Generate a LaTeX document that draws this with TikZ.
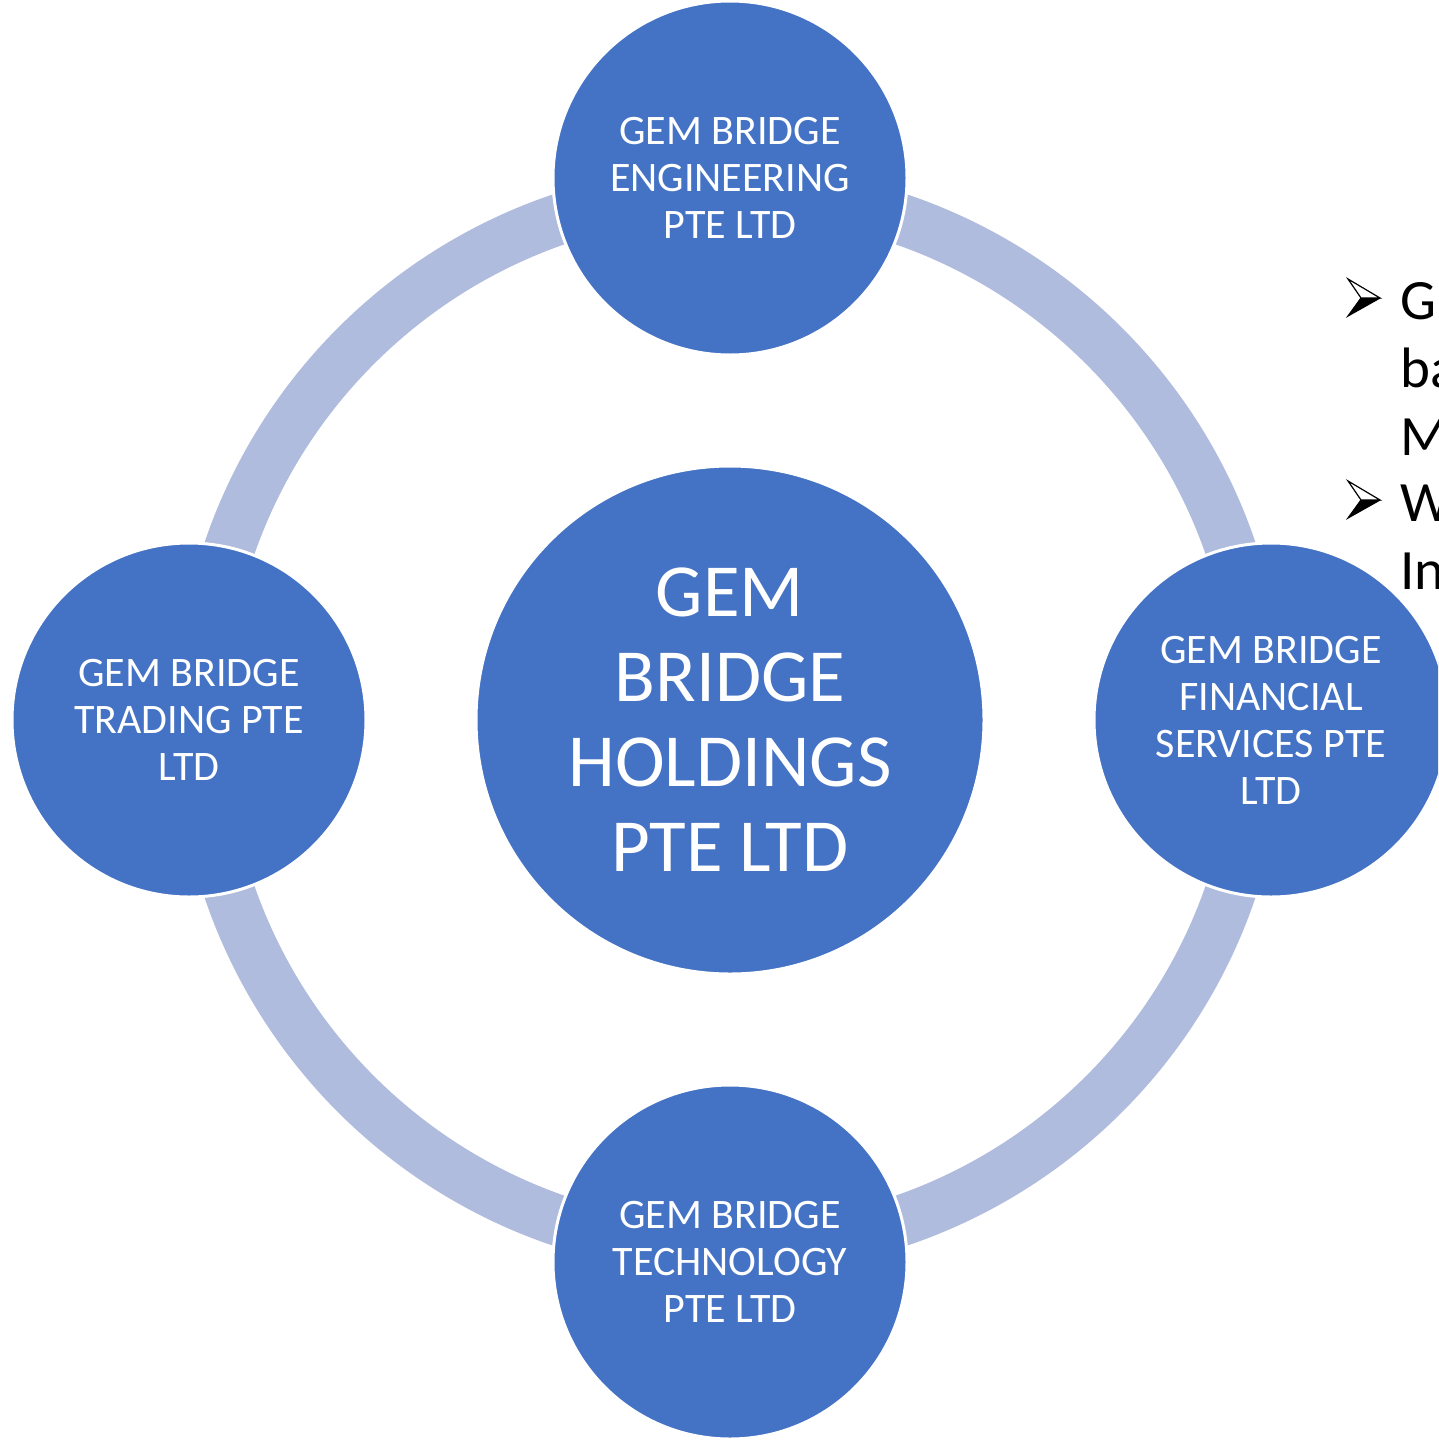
\documentclass[tikz,border=0pt]{standalone}
\usepackage{fontspec}
\setmainfont{Carlito}
\definecolor{circblue}{RGB}{68,114,196}
\definecolor{ringblue}{RGB}{176,188,222}
\begin{document}
\begin{tikzpicture}[x=1pt,y=-1pt,
  sat/.style={circle,fill=circblue,draw=white,line width=3pt,minimum size=354pt,inner sep=0pt,
    align=center,text=white,font=\fontsize{42}{47}\selectfont},
  hub/.style={circle,fill=circblue,draw=white,line width=3pt,minimum size=508pt,inner sep=0pt,
    align=center,text=white,font=\fontsize{75}{85}\selectfont},
  txt/.style={anchor=base west,inner sep=0pt,font=\fontsize{57}{68}\selectfont},
  arrowbullet/.pic={
    \draw[black,line width=1.2pt,line join=miter,fill=white] (0,0) -- (32,19) -- (13,19) -- cycle;
    \fill[black] (13,19) -- (32,19) -- (0,37) -- cycle;
    \draw[black,line width=1.2pt,line join=miter] (32,19) -- (0,37) -- (13,19);
  }]
\useasboundingbox (0,0) rectangle (1438,1440);
\clip (0,0) rectangle (1438,1440);
\coordinate (c) at (730,720);
\draw[ringblue,line width=51pt] (c) circle[radius=529pt];
\node[sat] (top) at (730,178) {GEM BRIDGE\\ENGINEERING\\PTE LTD};
\node[sat] (left) at (189,720) {GEM BRIDGE\\TRADING PTE\\LTD};
\node[sat] (right) at (1271,720) {GEM BRIDGE\\FINANCIAL\\SERVICES PTE\\LTD};
\node[sat] (bottom) at (730,1262) {GEM BRIDGE\\TECHNOLOGY\\PTE LTD};
\node[hub] (hub) at (c) {GEM\\BRIDGE\\HOLDINGS\\PTE LTD};
\pic at (1348,279) {arrowbullet};
\pic at (1348,481) {arrowbullet};
\node[txt] (l1) at (1400,319) {G};
\node[txt] (l2) at (1400,387) {ba};
\node[txt] (l3) at (1400,455) {M};
\node[txt] (l4) at (1400,521) {W};
\node[txt] (l5) at (1400,589) {In};
\end{tikzpicture}
\end{document}
